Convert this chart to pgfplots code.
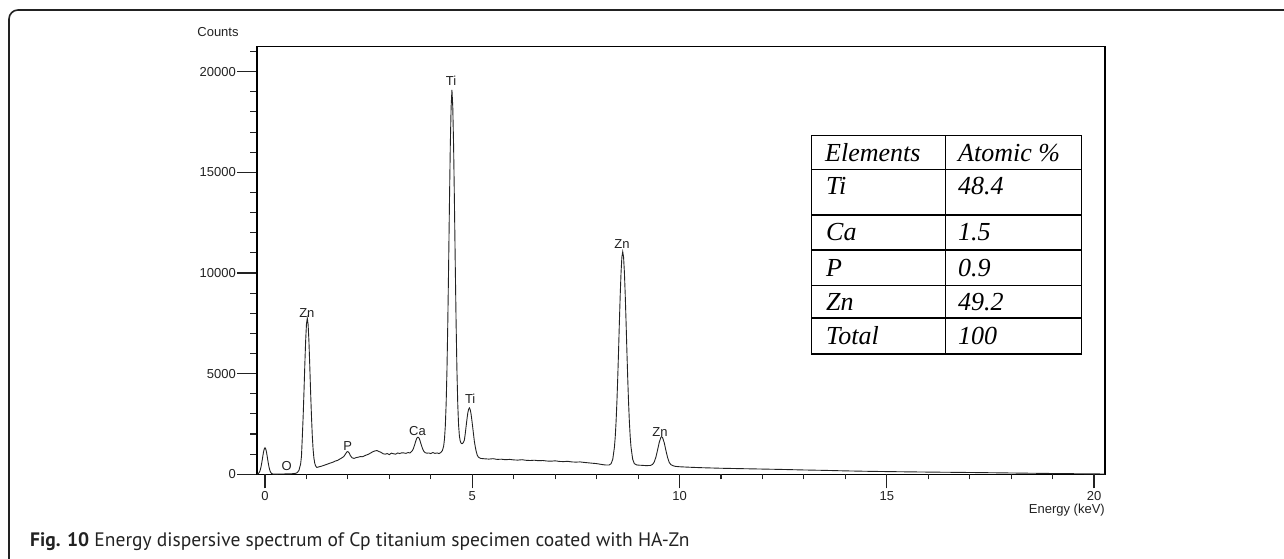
\documentclass[border=0pt]{standalone}
\usepackage{pgfplots}
\pgfplotsset{compat=1.18}
\usepackage{fontspec}
\setmainfont{Liberation Sans}
\newfontfamily\capfont{PT Sans}
\newfontfamily\tabfont{Liberation Serif}
\definecolor{ink}{HTML}{222222}
\begin{document}
\begin{tikzpicture}[x=1pt,y=1pt]
\useasboundingbox (0,0) rectangle (1284,559);
\draw[line width=1.6pt, rounded corners=9pt, ink] (9,-10) -- (9,549) -- (1300,549);
\begin{axis}[
  at={(257pt,84.7pt)}, anchor=south west, scale only axis,
  width=848pt, height=427.6pt,
  xmin=-0.193, xmax=20.265, ymin=0, ymax=21240,
  xtick=\empty,
  ytick={0,5000,10000,15000,20000},
  minor ytick={1000,2000,3000,4000,6000,7000,8000,9000,11000,12000,13000,14000,16000,17000,18000,19000,21000},
  tick align=outside, ytick pos=left,
  major tick length=20pt, minor tick length=7pt,
  scaled y ticks=false,
  /pgf/number format/assume math mode=true,
  yticklabel style={font=\fontsize{13}{13}\selectfont, inner xsep=1pt, text=ink, /pgf/number format/1000 sep={}},
  axis line style={line width=1.2pt, black},
  every tick/.style={line width=1.1pt, ink},
  clip=false,
]
\addplot[line width=0.9pt, color=ink] coordinates {
(-0.19,5) (-0.16,38) (-0.14,87) (-0.12,178) (-0.10,329) (-0.08,543) (-0.06,801) (-0.04,1057) (-0.02,1249) (0,1320) (0.02,1249) (0.04,1057) (0.06,801) (0.08,543) (0.10,329) (0.12,178) (0.14,87) (0.16,38) (0.20,10) (0.25,8) (0.3,12) (0.4,15) (0.5,18) (0.6,22) (0.7,35) (0.75,55)
(0.78,90) (0.82,200) (0.86,520) (0.88,900) (0.90,1850) (0.92,2850) (0.94,4080) (0.96,5400) (0.98,6600) (1.00,7450) (1.02,7750) (1.04,7450) (1.06,6600) (1.08,5400) (1.10,4100) (1.12,2950) (1.14,1950) (1.16,1250) (1.18,800) (1.20,550) (1.22,420) (1.25,340)
(1.30,370) (1.35,395) (1.40,430) (1.45,465) (1.50,500) (1.55,540) (1.60,575) (1.65,610) (1.70,660) (1.75,690) (1.80,750) (1.85,810) (1.90,880) (1.94,1000) (1.97,1100) (2.00,1130) (2.03,1060) (2.06,930) (2.10,820) (2.15,790) (2.20,830) (2.25,850) (2.30,880) (2.35,870) (2.40,920) (2.45,960) (2.50,1000) (2.55,1060) (2.60,1120) (2.65,1160) (2.70,1180) (2.75,1130) (2.80,1090) (2.85,1020) (2.90,1000) (2.95,1030) (3.00,980) (3.05,1050) (3.10,1020) (3.15,1000) (3.20,1060) (3.25,1030) (3.30,1070) (3.35,1060) (3.40,1040) (3.45,1080) (3.50,1060) (3.54,1150)
(3.56,1190) (3.58,1280) (3.60,1400) (3.62,1530) (3.64,1670) (3.66,1780) (3.68,1840) (3.70,1840) (3.72,1780) (3.74,1670) (3.76,1530) (3.78,1400) (3.80,1280) (3.83,1150) (3.86,1080) (3.90,1050) (3.95,1060) (4.00,1030) (4.05,1080) (4.10,1040) (4.15,1060) (4.20,1030) (4.24,1080)
(4.28,1180) (4.31,1400) (4.33,1750) (4.35,2400) (4.37,3500) (4.39,5200) (4.41,7550) (4.43,10400) (4.45,13500) (4.47,16300) (4.49,18250) (4.51,19100) (4.53,18250) (4.55,16300) (4.57,13500) (4.59,10400) (4.61,7550) (4.63,5200) (4.65,3500) (4.67,2450) (4.69,1900) (4.71,1650) (4.73,1550) (4.75,1520) (4.77,1540)
(4.79,1600) (4.81,1700) (4.83,2000) (4.85,2350) (4.87,2700) (4.89,3010) (4.91,3220) (4.93,3300) (4.95,3220) (4.97,3010) (4.99,2700) (5.01,2350) (5.03,2000) (5.05,1650) (5.07,1400) (5.09,1180) (5.12,950) (5.15,850) (5.20,790)
(5.3,770) (5.4,755) (5.5,775) (5.6,740) (5.7,750) (5.8,725) (5.9,740) (6.0,715) (6.1,705) (6.2,725) (6.3,695) (6.4,685) (6.5,700) (6.6,675) (6.7,685) (6.8,660) (6.9,650) (7.0,670) (7.1,640) (7.2,630) (7.3,645) (7.4,615) (7.5,605) (7.6,615) (7.7,590) (7.8,570) (7.9,550) (8.0,530) (8.1,495) (8.2,465) (8.3,460)
(8.35,530) (8.39,750) (8.43,1350) (8.45,1880) (8.47,2630) (8.49,3610) (8.51,4810) (8.53,6160) (8.55,7600) (8.57,8940) (8.59,10050) (8.61,10800) (8.63,11050) (8.65,10800) (8.67,10050) (8.69,8940) (8.71,7600) (8.73,6160) (8.75,4810) (8.77,3610) (8.79,2630) (8.81,1880) (8.83,1350) (8.87,750) (8.91,530) (8.96,470) (9.0,455) (9.1,445) (9.2,430) (9.3,440)
(9.35,490) (9.39,610) (9.43,850) (9.47,1200) (9.51,1580) (9.55,1830) (9.57,1870) (9.59,1830) (9.63,1580) (9.67,1200) (9.71,850) (9.75,600) (9.79,480) (9.85,420) (9.9,395) (10.0,375) (10.25,350) (10.5,330) (10.75,315) (11.0,300) (11.5,280) (12.0,260) (12.5,240) (13.0,215) (13.5,195) (14.0,170) (14.5,150) (15.0,135) (15.5,122) (16.0,110) (16.5,100) (17.0,90) (17.5,78) (18.0,65) (18.5,52) (19.0,40) (19.5,30) (20.0,20) (20.26,15)
};
\begin{scope}[every node/.style={font=\fontsize{13}{13}\selectfont, text=ink, inner sep=0pt}]
\node at (axis cs:4.49,19538) {Ti};
\node at (axis cs:1.01,8013) {Zn};
\node at (axis cs:1.995,1420) {P};
\node at (axis cs:0.52,427) {O};
\node at (axis cs:3.68,2151) {Ca};
\node at (axis cs:4.95,3726) {Ti};
\node at (axis cs:8.61,11440) {Zn};
\node at (axis cs:9.53,2100) {Zn};
\end{scope}
\end{axis}
\begin{axis}[
  at={(257pt,84.7pt)}, anchor=south west, scale only axis,
  width=848pt, height=427.6pt,
  xmin=-0.193, xmax=20.265, ymin=0, ymax=21240,
  hide y axis, axis line style={draw=none},
  xtick={0,5,10,15,20},
  minor xtick={1,2,3,4,6,7,8,9,11,12,13,14,16,17,18,19},
  tick align=outside, xtick pos=left,
  major tick length=14pt, minor tick length=5pt,
  /pgf/number format/assume math mode=true,
  xticklabel style={font=\fontsize{13}{13}\selectfont, text=ink},
  every tick/.style={line width=1.1pt, ink},
]
\end{axis}
\node[font=\fontsize{13}{13}\selectfont, text=ink] at (218,527) {Counts};
\node[font=\fontsize{13}{13}\selectfont, text=ink, anchor=east, inner sep=0pt] at (1105,49) {Energy (keV)};
% table of atomic percentages
\begin{scope}[line width=1.5pt, black]
\draw (811.7,423.3) rectangle (1081.7,205);
\draw (945.7,423.3) -- (945.7,205);
\foreach \yy in {389.7,344,309,273.3,241} {\draw (811.7,\yy) -- (1081.7,\yy);}
\end{scope}
\begin{scope}[every node/.style={font=\tabfont\itshape\fontsize{26}{26}\selectfont, anchor=base west, inner sep=0pt, text=black}]
\node at (825,397) {Elements}; \node at (958,397) {Atomic \%};
\node at (826,364) {Ti}; \node at (958,364) {48.4};
\node at (826,318) {Ca}; \node at (958,318) {1.5};
\node at (826,282.5) {P}; \node at (958,282.5) {0.9};
\node at (826,248.5) {Zn}; \node at (958,248.5) {49.2};
\node at (826,214.5) {Total}; \node at (958,214.5) {100};
\end{scope}
\node[anchor=base west, inner sep=0pt, font=\capfont\fontsize{19.5}{19.5}\selectfont, text=ink] at (30,12) {\textbf{Fig. 10} Energy dispersive spectrum of Cp titanium specimen coated with HA-Zn};
\end{tikzpicture}
\end{document}
